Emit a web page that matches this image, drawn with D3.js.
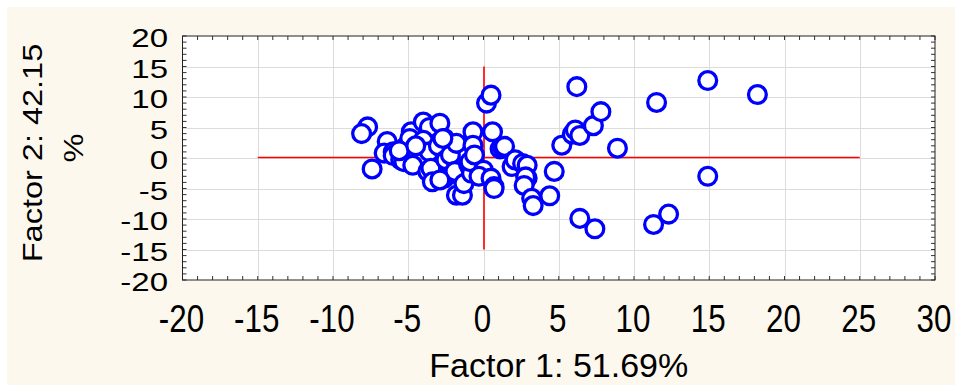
<!DOCTYPE html>
<html lang="en">
<head>
<meta charset="utf-8">
<title>Factor scatter</title>
<script src="https://d3js.org/d3.v7.min.js"></script>
<style>
  body { margin: 0; background: #fff; font-family: "Liberation Sans", Arial, sans-serif; }
  svg { display: block; }
</style>
</head>
<body>
<div id="chart"></div>
<script>
// factor scores
var factor1 = [-7.7, -8.1, -6.4, -7.4, -6.6, -6.0, -6.0, -5.5, -5.2, -5.0, -5.3, -4.4, -4.2,
  -4.8, -4.7, -4.9, -4.0, -3.6, -4.0, -3.6, -3.7, -3.5, -3.4, -2.9, -2.6, -3.0, -2.6,
  -2.5, -2.2, -2.0, -1.8, -1.9, -1.8, -1.4, -1.3, -1.0, -0.9, -0.8, -0.9, -0.7, -0.7,
  -0.6, 0.0, -0.3, 0.2, 0.5, 0.6, 0.5, 0.7, 0.7, 1.1, 1.3, 1.4, 1.9, 2.1, 2.6, 2.9,
  2.9, 2.8, 2.7, 3.2, 3.3, 4.4, 4.7, 5.2, 5.9, 6.1, 6.4, 7.3, 7.8, 6.2, 8.9, 6.4,
  7.4, 11.5, 14.9, 18.2, 14.9, 11.3, 12.3, -2.7, -2.9, -5.6, -4.5];
var factor2 = [5.1, 4.0, 2.7, -1.8, 0.8, 1.0, 0.4, -0.3, 1.8, 0.2, -0.6, 0.9, -0.5,
  4.3, -1.2, 3.2, 5.9, 5.0, 2.9, 1.0, -2.2, -1.7, -3.9, 5.7, 3.2, 2.0, -3.3,
  -0.3, 0.5, -2.5, 2.4, -2.2, -6.1, -6.1, -4.2, -1.0, -1.4, -2.5, -0.6, 4.3, 2.1,
  0.5, -2.0, -3.0, 9.0, 10.3, 4.3, -3.3, -4.7, -5.0, 1.5, 1.6, 1.9, -1.4, -0.3, -0.9, -1.2,
  -3.3, -3.1, -4.5, -6.6, -7.8, -6.2, -2.2, 2.1, 3.9, 4.6, 3.7, 5.3, 7.6, 11.7, 1.6, -9.9,
  -11.6, 9.1, 12.7, 10.4, -3.0, -10.9, -9.2, 3.2, -3.6, 1.2, 2.0];
var xTicks = [-20, -15, -10, -5, 0, 5, 10, 15, 20, 25, 30];
var yTicks = [20, 15, 10, 5, 0, -5, -10, -15, -20];
var xTitle = "Factor 1: 51.69%";
var yTitle = ["Factor 2: 42.15", "%"];

drawChart();

function drawChart() {
  var w = 955, h = 385;
  var pLeft = 182.5, pRight = 935, pTop = 36, pBottom = 280;

  var x = d3.scaleLinear().domain([-20, 30]).range([pLeft, pRight]);
  var y = d3.scaleLinear().domain([-20, 20]).range([pBottom, pTop]);

  var svg = d3.select("#chart").append("svg").attr("width", w).attr("height", h);

  // cream page
  svg.append("rect").attr("x", 7).attr("y", 7).attr("width", w - 7).attr("height", h - 7)
    .attr("fill", "#fdf8ee");
  svg.append("rect").attr("x", pLeft).attr("y", pTop)
    .attr("width", pRight - pLeft).attr("height", pBottom - pTop).attr("fill", "#fff");

  // grid
  svg.selectAll(".gx").data(xTicks.slice(1, -1)).enter().append("line")
    .attr("x1", d => Math.round(x(d)) + 0.5).attr("x2", d => Math.round(x(d)) + 0.5)
    .attr("y1", pTop).attr("y2", pBottom)
    .attr("stroke", "#dcdcdc").attr("stroke-width", 1);
  svg.selectAll(".gy").data(yTicks.slice(1, -1)).enter().append("line")
    .attr("y1", d => Math.round(y(d)) + 0.5).attr("y2", d => Math.round(y(d)) + 0.5)
    .attr("x1", pLeft).attr("x2", pRight)
    .attr("stroke", "#dcdcdc").attr("stroke-width", 1);

  // inner minor ticks, one per unit
  var tickLen = 4;
  d3.range(-20, 31).forEach(function(v) {
    svg.append("line").attr("x1", x(v)).attr("x2", x(v)).attr("y1", pBottom).attr("y2", pBottom - tickLen)
      .attr("stroke", "#333");
    svg.append("line").attr("x1", x(v)).attr("x2", x(v)).attr("y1", pTop).attr("y2", pTop + tickLen)
      .attr("stroke", "#333");
  });
  d3.range(-20, 21).forEach(function(v) {
    svg.append("line").attr("y1", y(v)).attr("y2", y(v)).attr("x1", pLeft).attr("x2", pLeft + tickLen)
      .attr("stroke", "#333");
    svg.append("line").attr("y1", y(v)).attr("y2", y(v)).attr("x1", pRight).attr("x2", pRight - tickLen)
      .attr("stroke", "#333");
  });

  svg.append("rect").attr("x", pLeft).attr("y", pTop)
    .attr("width", pRight - pLeft).attr("height", pBottom - pTop)
    .attr("fill", "none").attr("stroke", "#222").attr("stroke-width", 1);

  // red origin cross
  svg.append("line").attr("x1", x(-15)).attr("x2", x(25))
    .attr("y1", Math.round(y(0)) - 0.5).attr("y2", Math.round(y(0)) - 0.5)
    .attr("stroke", "#ff0000").attr("stroke-width", 1.3);
  svg.append("line").attr("x1", Math.round(x(0))).attr("x2", Math.round(x(0)))
    .attr("y1", y(-15)).attr("y2", y(15))
    .attr("stroke", "#ff2a2a").attr("stroke-width", 2);

  // points
  var pts = factor1.map((d, i) => [d, factor2[i]]);
  svg.selectAll("circle").data(pts).enter().append("circle")
    .attr("cx", d => x(d[0])).attr("cy", d => y(d[1]))
    .attr("r", 8.9)
    .attr("fill", "#fff").attr("stroke", "#0000ff").attr("stroke-width", 3.3);

  // tick labels
  svg.selectAll(".xl").data(xTicks).enter().append("g")
    .attr("transform", d => "translate(" + (x(d) - 1) + ",332) scale(0.98,1.2)")
    .append("text").attr("text-anchor", "middle")
    .attr("font-size", 32).attr("fill", "#000").text(d => d);

  svg.selectAll(".yl").data(yTicks).enter().append("g")
    .attr("transform", d => "translate(168," + (y(d) + 11) + ") scale(1,0.8)")
    .append("text").attr("text-anchor", "end")
    .attr("font-size", 33).attr("fill", "#000").text(d => d);

  // titles
  svg.append("text").attr("x", (pLeft + pRight) / 2).attr("y", 377)
    .attr("text-anchor", "middle").attr("font-size", 34).attr("fill", "#000").text(xTitle);

  var yt = svg.append("g").attr("transform", "translate(42,153) rotate(-90) scale(1,0.84)");
  yt.append("text").attr("x", 0).attr("y", 0).attr("text-anchor", "middle")
    .attr("font-size", 32.5).attr("fill", "#000").text(yTitle[0]);
  yt.append("text").attr("x", 5).attr("y", 49).attr("text-anchor", "middle")
    .attr("font-size", 32.5).attr("fill", "#000").text(yTitle[1]);
}
</script>
</body>
</html>
